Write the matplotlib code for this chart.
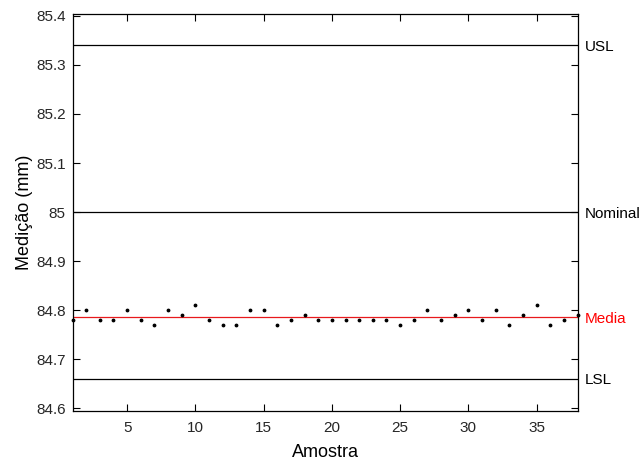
import matplotlib
matplotlib.use("Agg")
import matplotlib.pyplot as plt
import matplotlib.transforms as mtransforms
from matplotlib.ticker import FormatStrFormatter
import numpy as np

plt.rcParams['font.family'] = ['Liberation Sans', 'DejaVu Sans']

# medições por amostra (mm)
amostra = np.arange(1, 39)
medicao = [84.78, 84.80, 84.78, 84.78, 84.80, 84.78, 84.77, 84.80, 84.79, 84.81,
           84.78, 84.77, 84.77, 84.80, 84.80, 84.77, 84.78, 84.79, 84.78, 84.78,
           84.78, 84.78, 84.78, 84.78, 84.77, 84.78, 84.80, 84.78, 84.79, 84.80,
           84.78, 84.80, 84.77, 84.79, 84.81, 84.77, 84.78, 84.79]
USL = 85.34
NOMINAL = 85.0
LSL = 84.66
media = np.mean(medicao)

fig = plt.figure(figsize=(6.43, 4.65), dpi=100)
ax = fig.add_axes([0.1128, 0.1161, 0.7854, 0.8538])

ax.plot(amostra, medicao, 'k.', markersize=3.5, clip_on=False, zorder=3)
ax.axhline(USL, color='black', linewidth=0.9)
ax.axhline(NOMINAL, color='black', linewidth=0.9)
ax.axhline(LSL, color='black', linewidth=0.9)
ax.axhline(media, color='#e8191c', linewidth=0.9)

# rótulos dos limites fora do eixo, à direita
trans = mtransforms.blended_transform_factory(ax.transAxes, ax.transData)
xt = 1.0 + 7 / 505
kw = dict(transform=trans, va='center_baseline', ha='left', fontsize=11)
ax.text(xt, USL, 'USL', **kw)
ax.text(xt, NOMINAL, 'Nominal', **kw)
ax.text(xt, media, 'Media', color='#ff0000', **kw)
ax.text(xt, LSL, 'LSL', **kw)

ax.set_xlim(1, 38)
ax.set_ylim(84.594, 85.404)
ax.set_xticks([5, 10, 15, 20, 25, 30, 35])
ax.set_yticks([84.6, 84.7, 84.8, 84.9, 85.0, 85.1, 85.2, 85.3, 85.4])
ax.yaxis.set_major_formatter(FormatStrFormatter('%g'))
ax.tick_params(direction='in', top=True, right=True, length=5, width=0.8,
               labelsize=11, colors='black', labelcolor='#262626')
ax.tick_params(axis='x', pad=7)
ax.tick_params(axis='y', pad=5)
for sp in ax.spines.values():
    sp.set_linewidth(0.9)

ax.set_xlabel('Amostra', fontsize=13, labelpad=7)
ax.set_ylabel('Medição (mm)', fontsize=13, labelpad=2)

fig.savefig('out.png', dpi=100)
